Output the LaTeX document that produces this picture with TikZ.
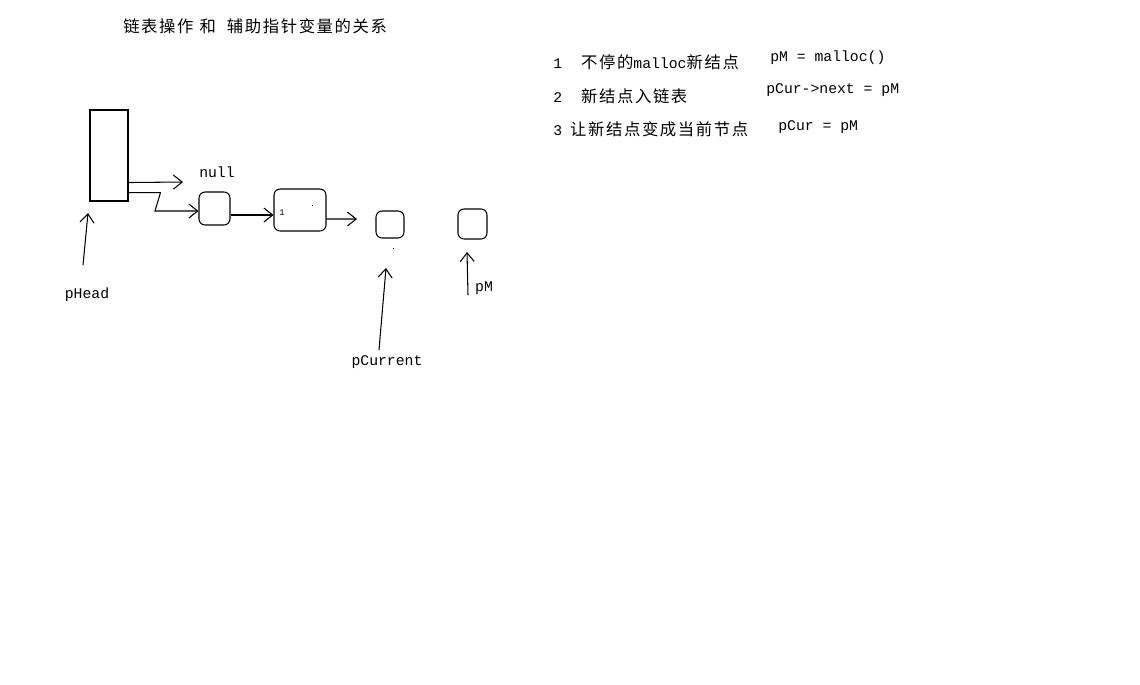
\documentclass[tikz,border=0pt]{standalone}
\usepackage{fontspec}
\setmainfont{Liberation Mono}
\newfontfamily\cjk[LetterSpace=10]{Noto Sans CJK SC}
\newcommand{\zhtxt}[1]{{\cjk\fontsize{9.3}{11}\selectfont #1}}
\usetikzlibrary{arrows.meta,calc}

\begin{document}
\begin{tikzpicture}[x=0.02cm, y=-0.02cm, line width=0.6pt,
  ptr/.style={-{Straight Barb[length=5pt,width=8pt]}},
  headbox/.style={draw, inner sep=0, minimum width=0.76cm, minimum height=1.82cm},
  cell/.style={draw, rounded corners=0.12cm, inner sep=0},
  lbl/.style={inner sep=1pt, font=\fontsize{8.4}{10}\selectfont},
  note/.style={lbl, anchor=west}]
  \useasboundingbox[fill=white] (0,0) rectangle (1140,684);
  % title
  \node[note] (title) at (121,26) {\zhtxt{链表操作\hspace{0.12cm}和\hspace{0.22cm}辅助指针变量的关系}};
  % list
  \node[headbox] (head) at (109,155.5) {};
  \node[cell, minimum width=0.62cm, minimum height=0.66cm] (n1) at (214.5,208.5) {};
  \node[cell, minimum width=1.04cm, minimum height=0.84cm] (n2) at (300,210) {};
  \node[cell, minimum width=0.56cm, minimum height=0.54cm] (n3) at (390,224.5) {};
  \node[cell, minimum width=0.58cm, minimum height=0.6cm] (n4) at (472.5,224) {};
  \node[lbl, font=\fontsize{5}{6}\selectfont] (one) at (282,213) {1};
  \fill (311.5,204.5) rectangle ++(1.5,1.5);
  \fill (392.5,247.5) rectangle ++(1.5,1.5);
  % labels
  \node[lbl] (null) at (217,172) {null};
  \node[lbl] (ph) at (87,295) {pHead};
  \node[lbl] (pc) at (387,362) {pCurrent};
  \node[lbl] (pm) at (484,288) {pM};
  \coordinate (nullend) at (183,182);
  \coordinate (zig) at (155,211);
  \coordinate (n2out) at (357,219);
  \coordinate (phtail) at (83,265);
  \coordinate (phtip) at (88,213);
  \coordinate (pctail) at (379,350);
  \coordinate (pctip) at (386,268);
  \coordinate (pmtail) at (468,295);
  \coordinate (pmtip) at (467,252);
  % pointers
  \draw[ptr] ([yshift=0.38cm]head.south east) -- (nullend);
  \draw[ptr] ([yshift=0.18cm]head.south east) -- ++(32,0) -- (zig) -- (zig -| n1.west);
  \draw[ptr] ([yshift=-0.13cm]n1.east) -- ([yshift=-0.13cm]n1.east -| n2.west);
  \draw[ptr] ([yshift=-0.18cm]n2.east) -- (n2out);
  \draw[ptr] (phtail) -- (phtip);
  \draw[ptr] (pctail) -- (pctip);
  \draw[ptr] (pmtail) -- (pmtip);
  % steps
  \node[note] (s1) at (551,62) {1\hspace{0.38cm}\zhtxt{不停的}malloc\zhtxt{新结点}};
  \node[note] (c1) at (768,58) {pM = malloc()};
  \node[note] (s2) at (551,96) {2\hspace{0.38cm}\zhtxt{新结点入链表}};
  \node[note] (c2) at (764,90) {pCur->next = pM};
  \node[note] (s3) at (551,129) {3\hspace{0.16cm}\zhtxt{让新结点变成当前节点}};
  \node[note] (c3) at (776,127) {pCur = pM};
\end{tikzpicture}
\end{document}
